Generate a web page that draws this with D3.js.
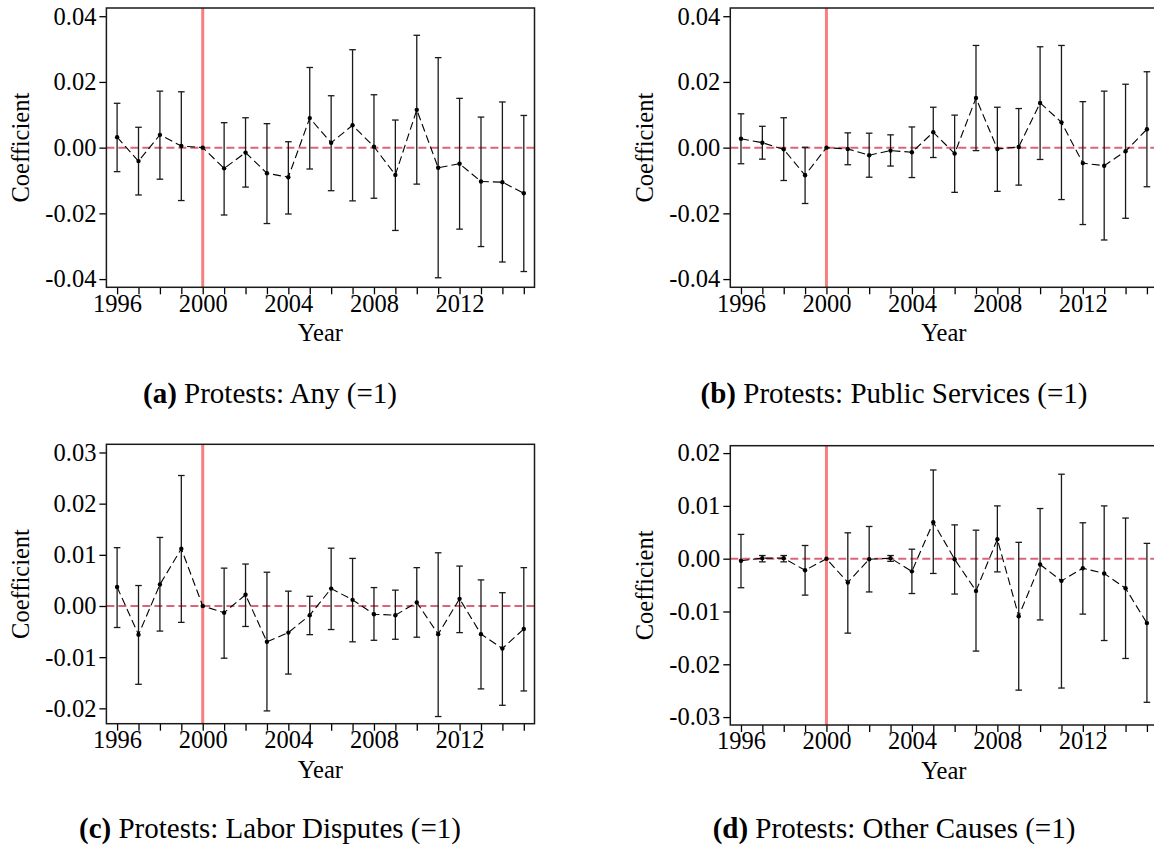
<!DOCTYPE html>
<html>
<head>
<meta charset="utf-8">
<script src="https://cdn.jsdelivr.net/npm/d3@7"></script>
<style>
  body { margin: 0; background: #fff; }
  svg { display: block; }
</style>
</head>
<body>
<svg id="fig" width="1154" height="845" font-family="Liberation Serif, Times New Roman, serif"></svg>
<script>
// Event-study coefficients with 95% confidence intervals (base year 2000 omitted)
const years = [1996, 1997, 1998, 1999, 2000, 2001, 2002, 2003, 2004, 2005,
               2006, 2007, 2008, 2009, 2010, 2011, 2012, 2013, 2014, 2015];
const yearLabels = [1996, 2000, 2004, 2008, 2012];
const treatYear = 2000;

// (a) Any protest
const anyCoef = [0.0032, -0.0041, 0.0039, 0.0005, 0, -0.0063, -0.0015, -0.0078, -0.0090, 0.0090,
                 0.0015, 0.0068, 0.0003, -0.0083, 0.0115, -0.0061, -0.0049, -0.0103, -0.0105, -0.0139];
const anyHi   = [0.0135, 0.0062, 0.0172, 0.0170, null, 0.0076, 0.0091, 0.0073, 0.0018, 0.0244,
                 0.0158, 0.0298, 0.0161, 0.0084, 0.0342, 0.0274, 0.0150, 0.0093, 0.0139, 0.0098];
const anyLo   = [-0.0073, -0.0144, -0.0096, -0.0161, null, -0.0205, -0.0120, -0.0231, -0.0202, -0.0065,
                 -0.0131, -0.0162, -0.0154, -0.0252, -0.0111, -0.0396, -0.0248, -0.0301, -0.0348, -0.0377];

// (b) Public services
const pubCoef = [0.0027, 0.0015, -0.0005, -0.0084, 0, -0.0004, -0.0023, -0.0009, -0.0014, 0.0047,
                 -0.0018, 0.0151, -0.0004, 0.0002, 0.0136, 0.0077, -0.0047, -0.0055, -0.0011, 0.0056];
const pubHi   = [0.0103, 0.0065, 0.0091, 0.0001, null, 0.0045, 0.0044, 0.0039, 0.0063, 0.0123,
                 0.0099, 0.0311, 0.0123, 0.0119, 0.0307, 0.0311, 0.0140, 0.0172, 0.0193, 0.0231];
const pubLo   = [-0.0049, -0.0035, -0.0100, -0.0170, null, -0.0052, -0.0090, -0.0056, -0.0091, -0.0030,
                 -0.0136, -0.0009, -0.0133, -0.0114, -0.0036, -0.0158, -0.0234, -0.0281, -0.0215, -0.0119];

// (c) Labor disputes
const labCoef = [0.0037, -0.0056, 0.0042, 0.0112, 0, -0.0013, 0.0022, -0.0070, -0.0052, -0.0018,
                 0.0034, 0.0012, -0.0016, -0.0018, 0.0007, -0.0055, 0.0014, -0.0055, -0.0083, -0.0045];
const labHi   = [0.0114, 0.0040, 0.0134, 0.0255, null, 0.0074, 0.0082, 0.0066, 0.0029, 0.0019,
                 0.0113, 0.0093, 0.0036, 0.0031, 0.0075, 0.0104, 0.0078, 0.0051, 0.0026, 0.0075];
const labLo   = [-0.0042, -0.0153, -0.0049, -0.0032, null, -0.0102, -0.0040, -0.0205, -0.0133, -0.0056,
                 -0.0046, -0.0070, -0.0067, -0.0065, -0.0061, -0.0216, -0.0052, -0.0162, -0.0194, -0.0166];

// (d) Other causes
const othCoef = [-0.0004, 0.0001, 0.0001, -0.0022, 0, -0.0045, -0.0001, 0.0001, -0.0024, 0.0069,
                 -0.0001, -0.0061, 0.0037, -0.0109, -0.0011, -0.0042, -0.0018, -0.0028, -0.0056, -0.0122];
const othHi   = [0.0046, 0.0006, 0.0006, 0.0025, null, 0.0049, 0.0061, 0.0006, 0.0018, 0.0168,
                 0.0064, 0.0054, 0.0100, 0.0031, 0.0095, 0.0160, 0.0068, 0.0100, 0.0077, 0.0029];
const othLo   = [-0.0055, -0.0006, -0.0006, -0.0069, null, -0.0141, -0.0063, -0.0005, -0.0066, -0.0028,
                 -0.0067, -0.0175, -0.0025, -0.0249, -0.0116, -0.0245, -0.0105, -0.0155, -0.0189, -0.0272];

// y-axis ticks per panel
const ticksWide  = [-0.04, -0.02, 0, 0.02, 0.04];
const ticksLabor = [-0.02, -0.01, 0, 0.01, 0.02, 0.03];
const ticksOther = [-0.03, -0.02, -0.01, 0, 0.01, 0.02];

const captionTag  = ["(a)", "(b)", "(c)", "(d)"];
const captionText = ["Protests: Any (=1)", "Protests: Public Services (=1)",
                     "Protests: Labor Disputes (=1)", "Protests: Other Causes (=1)"];

const SERIF = "Liberation Serif, Times New Roman, serif";

const panels = [
  { coef: anyCoef, hi: anyHi, lo: anyLo, ticks: ticksWide, yDom: [-0.0425, 0.0425],
    box: { l: 106.4, r: 534.5, t: 8, b: 287.3 }, capX: 270, capY: 403 },
  { coef: pubCoef, hi: pubHi, lo: pubLo, ticks: ticksWide, yDom: [-0.0425, 0.0425],
    box: { l: 730.3, r: 1157.6, t: 8, b: 287.3 }, capX: 894, capY: 403 },
  { coef: labCoef, hi: labHi, lo: labLo, ticks: ticksLabor, yDom: [-0.0230, 0.0316],
    box: { l: 106.4, r: 534.5, t: 444.3, b: 723.7 }, capX: 270, capY: 838 },
  { coef: othCoef, hi: othHi, lo: othLo, ticks: ticksOther, yDom: [-0.0315, 0.0214],
    box: { l: 730.3, r: 1157.6, t: 445.7, b: 725 }, capX: 894, capY: 838 }
];

const svg = d3.select("#fig");
const fmt = d => d3.format(".2f")(d).replace("\u2212", "-");

panels.forEach((p, i) => {
  const { l, r, t, b } = p.box;
  const x = d3.scaleLinear().domain([1995.5, 2015.5]).range([l, r]);
  const y = d3.scaleLinear().domain(p.yDom).range([b, t]);
  const g = svg.append("g").attr("font-family", SERIF);

  // x axis: a tick every year, labels every fourth year
  const xAxis = g.append("g")
    .attr("transform", `translate(0,${b})`)
    .call(d3.axisBottom(x).tickValues(years).tickSize(7).tickPadding(0)
      .tickFormat(d => yearLabels.includes(d) ? String(d) : ""))
    .attr("font-family", SERIF).attr("font-size", 24.5);
  xAxis.select(".domain").remove();
  xAxis.selectAll("line").attr("stroke", "#000").attr("stroke-width", 1.3);
  xAxis.selectAll("text").attr("fill", "#000");

  // y axis
  const yAxis = g.append("g")
    .attr("transform", `translate(${l},0)`)
    .call(d3.axisLeft(y).tickValues(p.ticks).tickSize(7).tickPadding(3).tickFormat(fmt))
    .attr("font-family", SERIF).attr("font-size", 24.5);
  yAxis.select(".domain").remove();
  yAxis.selectAll("line").attr("stroke", "#000").attr("stroke-width", 1.3);
  yAxis.selectAll("text").attr("fill", "#000");

  // axis titles
  g.append("text")
    .attr("x", (l + r) / 2).attr("y", b + 54)
    .attr("text-anchor", "middle").attr("font-size", 24.5).attr("fill", "#000")
    .text("Year");
  g.append("text")
    .attr("transform", `translate(${l - 77.4},${(t + b) / 2}) rotate(-90)`)
    .attr("text-anchor", "middle").attr("font-size", 24.5).attr("fill", "#000")
    .text("Coefficient");

  // reference lines
  g.append("line")
    .attr("x1", l).attr("x2", r).attr("y1", y(0)).attr("y2", y(0))
    .attr("stroke", "#dc6479").attr("stroke-width", 2).attr("stroke-dasharray", "8,4");
  g.append("line")
    .attr("x1", x(treatYear)).attr("x2", x(treatYear)).attr("y1", t).attr("y2", b)
    .attr("stroke", "#f67f7f").attr("stroke-width", 3);

  const rows = years.map((yr, k) => ({ yr, c: p.coef[k], hi: p.hi[k], lo: p.lo[k] }));
  const withCI = rows.filter(d => d.hi !== null && d.lo !== null);
  const cap = 3.3;

  // confidence intervals
  const ci = g.append("g").attr("stroke", "#1a1a1a").attr("stroke-width", 1.3).attr("fill", "none");
  ci.selectAll("line.v").data(withCI).join("line").attr("class", "v")
    .attr("x1", d => x(d.yr)).attr("x2", d => x(d.yr))
    .attr("y1", d => y(d.hi)).attr("y2", d => y(d.lo));
  ci.selectAll("line.h").data(withCI).join("line").attr("class", "h")
    .attr("x1", d => x(d.yr) - cap).attr("x2", d => x(d.yr) + cap)
    .attr("y1", d => y(d.hi)).attr("y2", d => y(d.hi));
  ci.selectAll("line.l").data(withCI).join("line").attr("class", "l")
    .attr("x1", d => x(d.yr) - cap).attr("x2", d => x(d.yr) + cap)
    .attr("y1", d => y(d.lo)).attr("y2", d => y(d.lo));

  // point estimates connected by a dashed line
  g.append("path").datum(rows)
    .attr("fill", "none").attr("stroke", "#000").attr("stroke-width", 1.1)
    .attr("stroke-dasharray", "8,4")
    .attr("d", d3.line().x(d => x(d.yr)).y(d => y(d.c)));
  g.selectAll("circle.pt").data(rows).join("circle").attr("class", "pt")
    .attr("cx", d => x(d.yr)).attr("cy", d => y(d.c)).attr("r", 2.2).attr("fill", "#000");

  // plot frame
  g.append("rect")
    .attr("x", l).attr("y", t).attr("width", r - l).attr("height", b - t)
    .attr("fill", "none").attr("stroke", "#1a1a1a").attr("stroke-width", 1.5);

  // sub-figure caption
  const capText = g.append("text")
    .attr("x", p.capX).attr("y", p.capY)
    .attr("text-anchor", "middle").attr("font-size", 29).attr("fill", "#000");
  capText.append("tspan").attr("font-weight", "bold").text(captionTag[i]);
  capText.append("tspan").text(" " + captionText[i]);
});
</script>
</body>
</html>
